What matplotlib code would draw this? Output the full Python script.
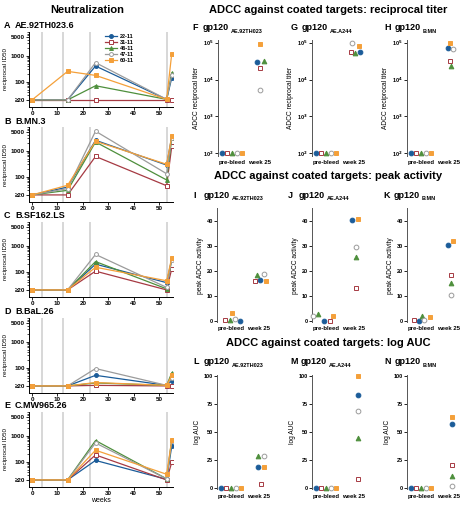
import numpy as np
import matplotlib.pyplot as plt

plt.rcParams['font.family'] = ['Liberation Sans', 'DejaVu Sans']
plt.rcParams['font.weight'] = 'bold'

W, H = 468, 505

# animals and their styles
animals = ['22-11', '31-11', '46-11', '47-11', '60-11']
colors = ['#1b5c99', '#a63a43', '#4e8f3c', '#9b9b9b', '#f4a03a']
markers = ['o', 's', '^', 'o', 's']
filled = [True, False, True, False, True]

# ---------------- neutralization data (reciprocal ID50) ----------------
weeks = [0, 14, 25, 53, 55]
immunizations = [4, 12, 23, 53]

neut_letters = ['A', 'B', 'C', 'D', 'E']
neut_names = ['AE.92TH023.6', 'B.MN.3', 'B.SF162.LS', 'B.BaL.26', 'C.MW965.26']

# one row per animal: 22-11, 31-11, 46-11, 47-11, 60-11
neut_AE92 = [[20, 20, 400, 21, 140],
             [20, 20, 20, 20, 20],
             [20, 20, 70, 21, 215],
             [20, 20, 540, 21, 180],
             [20, 250, 175, 21, 1200]]
neut_MN = [[20, 40, 2500, 280, 3400],
           [20, 20, 600, 45, 1450],
           [20, 30, 2150, 75, 3000],
           [20, 35, 5600, 130, 3200],
           [20, 47, 2300, 300, 3600]]
neut_SF162 = [[20, 20, 195, 38, 300],
              [20, 20, 105, 20, 130],
              [20, 20, 245, 22, 320],
              [20, 20, 460, 25, 280],
              [20, 20, 148, 45, 340]]
neut_BaL = [[20, 20, 51, 21, 32],
            [20, 20, 21, 20, 20],
            [20, 20, 26, 21, 63],
            [20, 20, 93, 21, 40],
            [20, 20, 27, 21, 51]]
neut_MW965 = [[20, 20, 112, 21, 400],
              [20, 20, 182, 20, 95],
              [20, 20, 650, 22, 700],
              [20, 20, 525, 22, 650],
              [20, 20, 276, 33, 680]]
neut_data = [neut_AE92, neut_MN, neut_SF162, neut_BaL, neut_MW965]

# ---------------- ADCC data ----------------
groups = ['pre-bleed', 'week 25']
targets = ['AE.92TH023', 'AE.A244', 'B.MN']

titer_pre = [[100] * 5, [100] * 5, [100] * 5]
titer_wk25 = [[29500, 21000, 31000, 5100, 90000],
              [56000, 57000, 51000, 100000, 83000],
              [71000, 32000, 23000, 66000, 100000]]

peak_pre = [[0, 0.5, 0.3, 0.9, 3.3],
            [0, 0, 3.0, 2.1, 2.0],
            [0, 0.5, 2.1, 0.4, 1.6]]
peak_wk25 = [[16.3, 15.9, 18.5, 18.7, 16.0],
             [40.3, 13.2, 25.5, 29.5, 40.7],
             [30.2, 18.3, 15.0, 10.3, 31.9]]

auc_pre = [[0] * 5, [0] * 5, [0] * 5]
auc_wk25 = [[19.2, 3.8, 29, 29, 18.6],
            [82.7, 8.0, 44.9, 68.8, 99.7],
            [57, 20.7, 10.9, 2.3, 63.5]]

# horizontal spread of the dots inside each group (layout only)
std_pre = [-0.4, -0.2, 0.0, 0.2, 0.4]
jit_pre = [[std_pre, std_pre, std_pre],
           [[0.35, -0.25, -0.05, 0.15, 0.05], [-0.08, 0.16, -0.3, -0.5, 0.29], [-0.06, -0.26, 0.06, 0.13, 0.34]],
           [std_pre, std_pre, std_pre]]
jit_wk = [[[1.0, 1.12, 1.25, 1.12, 1.12], [1.33, 0.97, 1.16, 1.02, 1.29], [1.05, 1.15, 1.19, 1.28, 1.15]],
          [[1.16, 0.93, 1.04, 1.29, 1.39], [1.04, 1.17, 1.17, 1.17, 1.27], [1.05, 1.18, 1.18, 1.18, 1.28]],
          [[1.05, 1.18, 1.06, 1.31, 1.31], [1.26] * 5, [1.24] * 5]]


def px_axes(fig, left, top, right, bottom):
    return fig.add_axes([left / W, 1 - bottom / H, (right - left) / W, (bottom - top) / H])


fig = plt.figure(figsize=(W / 100, H / 100), dpi=100)

# ---------------- left column: neutralization ----------------
fig.text(87 / W, 1 - 10 / H, 'Neutralization', ha='center', va='center', fontsize=8, fontweight='bold')
tops = [32, 127, 222, 318, 412]
for k in range(5):
    top = tops[k]
    ax = px_axes(fig, 29, top, 173, top + 75)
    for wk in immunizations:
        ax.axvline(wk, color='#d4d4d4', lw=1.3, zorder=0)
    for i in range(5):
        mfc = colors[i] if filled[i] else 'white'
        ax.plot(weeks, neut_data[k][i], color=colors[i], lw=0.9, marker=markers[i],
                ms=2.8, mfc=mfc, mec=colors[i], mew=0.7, label=animals[i], zorder=3 + i * 0.1)
    ax.set_yscale('log')
    ax.set_ylim(10.7, 8100)
    ax.set_xlim(-1.2, 55.5)
    ax.set_yticks([20, 100, 1000, 5000])
    ax.set_yticklabels(['\u226520', '100', '1000', '5000'])
    ax.set_xticks([0, 10, 20, 30, 40, 50])
    ax.tick_params(labelsize=4.5, length=2, width=0.6, pad=1)
    ax.tick_params(which='minor', length=1.2, width=0.5)
    for s in ['top', 'right']:
        ax.spines[s].set_visible(False)
    for s in ['left', 'bottom']:
        ax.spines[s].set_linewidth(0.7)
    ax.set_ylabel('reciprocal ID50', fontsize=4.5, labelpad=2)
    fig.text(4 / W, 1 - (top - 6) / H, neut_letters[k], fontsize=6.5, fontweight='bold', va='center')
    fig.text(15 / W, 1 - (top - 6) / H, neut_names[k], fontsize=6.5, fontweight='bold', va='center')
    if k == 0:
        ax.legend(loc='upper left', bbox_to_anchor=(0.5, 1.02), fontsize=4, frameon=False,
                  handlelength=2.2, labelspacing=0.15, borderpad=0.2, handletextpad=0.5)
    if k == 4:
        ax.set_xlabel('weeks', fontsize=5, labelpad=0.5)

# ---------------- right block: ADCC ----------------
sections = ['ADCC against coated targets: reciprocal titer',
            'ADCC against coated targets: peak activity',
            'ADCC against coated targets: log AUC']
sec_y = [10, 176, 343]
title_y = [28, 195, 362]
letters = [['F', 'G', 'H'], ['I', 'J', 'K'], ['L', 'M', 'N']]
ylabels = ['ADCC reciprocal titer', 'peak ADCC activity', 'log AUC']
ax_lefts = [[218, 312, 407], [217, 312, 407], [217, 312, 407]]
letter_x = [[192, 291, 384], [193, 288, 383], [193, 290, 384]]
row_box = [(40, 156), (208, 322.3), (374.6, 489.4)]
pre_sets = [titer_pre, peak_pre, auc_pre]
wk_sets = [titer_wk25, peak_wk25, auc_wk25]

for r in range(3):
    fig.text(328 / W, 1 - sec_y[r] / H, sections[r], ha='center', va='center',
             fontsize=8, fontweight='bold')
    for c in range(3):
        left = ax_lefts[r][c]
        ax = px_axes(fig, left, row_box[r][0], left + 52, row_box[r][1])
        for i in range(5):
            mfc = colors[i] if filled[i] else 'white'
            ax.plot([jit_pre[r][c][i], jit_wk[r][c][i]],
                    [pre_sets[r][c][i], wk_sets[r][c][i]],
                    ls='none', marker=markers[i], ms=3.4, mfc=mfc, mec=colors[i], mew=0.7,
                    zorder=3, clip_on=False)
        ax.set_xlim(-0.55, 1.5)
        ax.set_xticks([0.02, 1.08])
        ax.set_xticklabels(groups)
        if r == 0:
            ax.set_yscale('log')
            ax.set_ylim(10 ** 1.927, 10 ** 5.073)
            ax.set_yticks([1e2, 1e3, 1e4, 1e5])
            ax.set_yticklabels(['10$^{2}$', '10$^{3}$', '10$^{4}$', '10$^{5}$'])
            ax.minorticks_off()
        elif r == 1:
            ax.set_ylim(-0.5, 45)
            ax.set_yticks([0, 10, 20, 30, 40])
        else:
            ax.set_ylim(-1, 101)
            ax.set_yticks([0, 25, 50, 75, 100])
        ax.tick_params(axis='y', labelsize=4, length=2, width=0.6, pad=1)
        ax.tick_params(axis='x', labelsize=4.3, length=0, pad=3)
        for s in ['top', 'right', 'bottom']:
            ax.spines[s].set_visible(False)
        ax.spines['left'].set_linewidth(0.7)
        ax.spines['left'].set_color('#555555')
        ax.set_ylabel(ylabels[r], fontsize=4.8, labelpad=2)
        ty = 1 - title_y[r] / H
        fig.text(letter_x[r][c] / W, ty, letters[r][c], fontsize=6.5, fontweight='bold', va='center')
        fig.text((letter_x[r][c] + 11) / W, ty, 'gp120', fontsize=6.5,
                 fontweight='bold', va='center')
        fig.text((letter_x[r][c] + 38.5) / W, 1 - (title_y[r] + 3.5) / H, targets[c], fontsize=4,
                 fontweight='bold', va='center')

fig.savefig('out.png', dpi=100)
